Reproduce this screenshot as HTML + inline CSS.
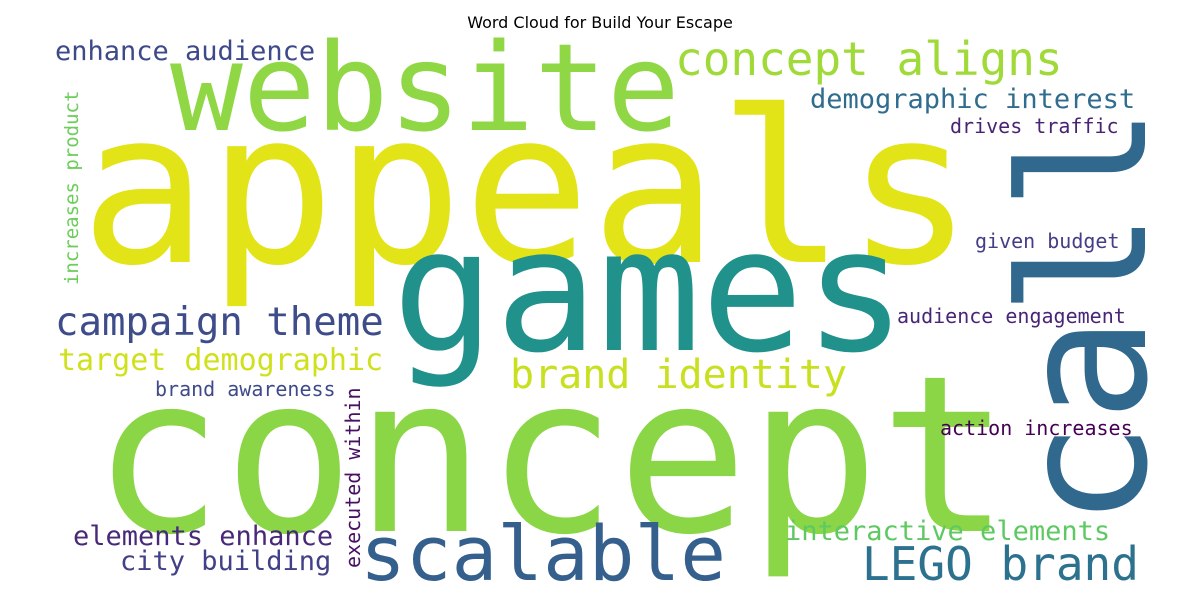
<!DOCTYPE html>
<html>
<head>
<meta charset="utf-8">
<style>
  html,body{margin:0;padding:0;background:#fff;}
  svg{display:block;}
  .title{font-family:"DejaVu Sans","Liberation Sans",sans-serif;font-size:16px;fill:#000;}
  .w{font-family:"DejaVu Sans Mono","Liberation Mono",monospace;}
</style>
</head>
<body>
<svg id="cloud" width="1200" height="600" viewBox="0 0 1200 600">
  <rect width="1200" height="600" fill="#fff"></rect>
  <text class="title" x="600" y="28" text-anchor="middle">Word Cloud for Build Your Escape</text>
  <g id="words"></g>
</svg>
<script>
const words = ["appeals","website","games","concept","call","scalable","concept aligns","campaign theme","brand identity","LEGO brand","demographic interest","enhance audience","target demographic","drives traffic","given budget","audience engagement","action increases","brand awareness","interactive elements","elements enhance","city building","increases product","executed within"];
const sizes = [212,121,171,218,175,76,46,39,40,46,27,27,30,20,20,20,20,20,27,27,27,19,20];
const anchorX = [80,170,392,92,1145,360,675,55,510,862,810,55,58,950,975,897,940,155,785,73,120,78,360];
const anchorY = [262,130,350,531,527,580,75,335,388,580,108,60,370,133,248,323,435,396,540,545,570,285,568];
const vertical = [0,0,0,0,1,0,0,0,0,0,0,0,0,0,0,0,0,0,0,0,0,1,1];
const colors = ["#e2e418","#8fd744","#21918c","#8bd646","#31688e","#355f8d","#a0da39","#3e4c8a","#c8e020","#2c728e","#2f6c8e","#3e4989","#d0e11c","#482374","#433e85","#482576","#440154","#3f4a8a","#5ec962","#482878","#424086","#6ccd5a","#471063"];

const g = document.getElementById('words');
const NS = "http://www.w3.org/2000/svg";
for (let i = 0; i < words.length; i++) {
  const t = document.createElementNS(NS, 'text');
  t.setAttribute('class', 'w');
  t.setAttribute('font-size', sizes[i]);
  t.setAttribute('fill', colors[i]);
  t.setAttribute('textLength', (sizes[i] * 0.602 * words[i].length).toFixed(1));
  t.setAttribute('lengthAdjust', 'spacingAndGlyphs');
  if (vertical[i]) {
    t.setAttribute('x', 0);
    t.setAttribute('y', 0);
    t.setAttribute('transform', 'translate(' + anchorX[i] + ',' + anchorY[i] + ') rotate(-90)');
  } else {
    t.setAttribute('x', anchorX[i]);
    t.setAttribute('y', anchorY[i]);
  }
  t.textContent = words[i];
  
  
  g.appendChild(t);
}
</script>
</body>
</html>
